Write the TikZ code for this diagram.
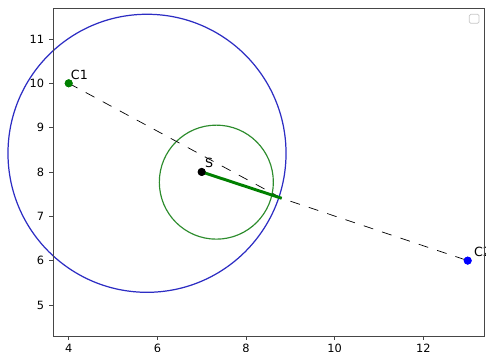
\documentclass[tikz,border=0pt]{standalone}
\usepackage{fontspec}
\setmainfont{DejaVu Sans}
\definecolor{mplgreen}{RGB}{0,128,0}
\definecolor{circblue}{RGB}{45,45,195}
\definecolor{circgreen}{RGB}{45,140,45}
\definecolor{spinecol}{RGB}{70,70,70}
\begin{document}
\begin{tikzpicture}[x=1.33cm,y=1.33cm,
  font=\fontsize{9.7}{11}\selectfont,
  dot/.style={circle, inner sep=0pt, minimum size=6.8pt},
  ptlabel/.style={anchor=south west, inner sep=0pt, font=\fontsize{10.8}{12}\selectfont},
  ticklab/.style={inner sep=0pt},
  tickline/.style={spinecol, line width=0.7pt},
  pathline/.style={black, line width=0.6pt, dash pattern=on 8.5pt off 8pt}]
\useasboundingbox (2.450,3.939) rectangle (13.413,11.879);
\clip (2.450,3.939) rectangle (13.413,11.879);
% circles
\coordinate (bc) at (5.766,8.421);
\coordinate (gc) at (7.33,7.77);
\draw[circblue, line width=1.05pt] (bc) circle (3.136);
\draw[circgreen, line width=1pt] (gc) circle (1.286);
% points
\coordinate (P) at (8.805,7.406);
\node[dot, fill=mplgreen] (C1) at (4,10) {};
\node[dot, fill=blue] (C2) at (13,6) {};
\node[dot, fill=black] (S) at (7,8) {};
% connectors
\draw[pathline] (C1.center) -- (P) -- (C2.center);
\draw[mplgreen, line width=2.5pt] (S.center) -- (P);
% redraw dots on top
\fill[mplgreen] (C1.center) circle (3.4pt);
\fill[blue] (C2.center) circle (3.4pt);
\fill[black] (S.center) circle (3.4pt);
% labels
\node[ptlabel] (lC1) at (4.045,10.074) {C1};
\node[ptlabel] (lS) at (7.07,8.096) {S};
\node[ptlabel] (lC2) at (13.14,6.075) {C2};
% axes frame
\draw[spinecol, line width=0.8pt] (3.653,4.30) rectangle (13.368,11.683);
% legend box
\draw[gray!45, line width=0.6pt, rounded corners=1.2pt] (13.037,11.353) rectangle (13.256,11.557);
% x ticks
\foreach \v in {4,6,8,10,12} {
  \draw[tickline] (\v,4.30) -- (\v,4.21);
  \node[ticklab, anchor=north] at (\v,4.112) {\v};
}
% y ticks
\foreach \v in {5,6,7,8,9,10,11} {
  \draw[tickline] (3.653,\v) -- (3.563,\v);
  \node[ticklab, anchor=east] at (3.450,\v) {\v};
}
\end{tikzpicture}
\end{document}
